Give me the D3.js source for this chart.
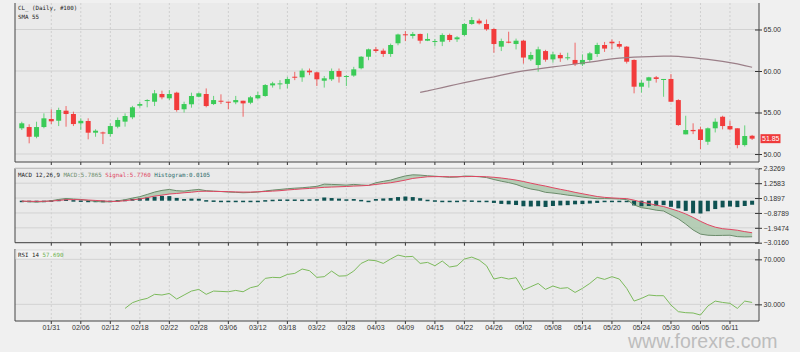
<!DOCTYPE html>
<html>
<head>
<meta charset="utf-8">
<script src="https://cdn.jsdelivr.net/npm/d3@7"></script>
<style>
  body { margin: 0; background: #f0f0f0; }
  svg { display: block; }
  .tick text { font-family: "Liberation Sans", Arial, sans-serif; font-size: 7px; fill: #333; }
  .mono { font-family: "DejaVu Sans Mono", monospace; font-size: 5.8px; }
</style>
</head>
<body>
<div id="chart"></div>
<script>
// CL_ daily, 100 bars
const dates = ["01/25","01/28","01/29","01/30","01/31","02/01","02/04","02/05","02/06","02/07",
  "02/08","02/11","02/12","02/13","02/14","02/15","02/18","02/19","02/20","02/21",
  "02/22","02/25","02/26","02/27","02/28","03/01","03/04","03/05","03/06","03/07",
  "03/08","03/11","03/12","03/13","03/14","03/15","03/18","03/19","03/20","03/21",
  "03/22","03/25","03/26","03/27","03/28","03/29","04/01","04/02","04/03","04/04",
  "04/05","04/08","04/09","04/10","04/11","04/12","04/15","04/16","04/17","04/18",
  "04/22","04/23","04/24","04/25","04/26","04/29","04/30","05/01","05/02","05/03",
  "05/06","05/07","05/08","05/09","05/10","05/13","05/14","05/15","05/16","05/17",
  "05/20","05/21","05/22","05/23","05/24","05/27","05/28","05/29","05/30","05/31",
  "06/03","06/04","06/05","06/06","06/07","06/10","06/11","06/12","06/13","06/14"];

const tickDates = ["01/31","02/06","02/12","02/18","02/22","02/28","03/06","03/12","03/18","03/22",
  "03/28","04/03","04/09","04/15","04/22","04/26","05/02","05/08","05/14","05/20",
  "05/24","05/30","06/05","06/11"];

const open = [53.10,53.25,52.08,53.25,54.22,54.01,55.22,54.82,53.70,53.98,
  52.57,52.60,52.41,53.29,53.90,54.42,55.82,56.42,56.30,57.23,
  56.71,57.39,55.39,55.99,56.90,57.23,56.02,56.42,56.30,56.23,
  56.42,56.18,56.71,56.99,58.27,58.47,58.45,59.31,59.24,60.04,
  59.84,58.83,59.00,60.00,59.31,59.45,60.33,61.72,62.61,62.45,
  62.05,63.34,64.42,64.22,64.46,63.65,63.55,63.53,64.34,63.82,
  64.34,65.66,66.06,65.66,65.06,62.93,63.53,63.25,63.65,61.40,
  60.72,62.40,61.40,61.93,61.53,61.33,60.81,61.33,62.05,63.13,
  63.53,63.25,62.93,61.33,58.11,58.83,59.24,58.95,59.04,56.50,
  52.37,52.90,52.97,51.48,53.10,54.49,53.37,53.10,51.08,52.20];
const high = [53.89,53.58,53.89,54.90,55.39,55.58,55.78,55.10,54.30,54.30,
  52.98,52.70,53.70,54.40,54.90,55.80,56.30,56.60,57.71,57.63,
  57.71,57.50,56.30,57.39,57.39,57.90,57.00,57.19,56.30,57.00,
  56.42,57.00,57.50,58.43,58.70,58.90,59.30,59.90,60.30,60.30,
  59.92,59.40,60.30,60.30,59.50,60.50,61.80,62.70,62.90,62.70,
  63.30,64.50,64.80,64.70,64.50,64.54,63.86,64.54,64.50,64.20,
  65.76,66.50,66.30,66.20,65.14,63.90,64.73,63.90,63.73,62.30,
  62.93,62.55,62.30,62.20,62.20,63.41,62.00,62.30,63.40,63.50,
  63.80,63.60,63.00,61.40,58.90,59.30,59.40,59.04,59.64,56.60,
  54.61,53.70,53.30,53.20,54.30,54.61,54.00,53.10,53.45,52.30];
const low = [52.89,51.29,51.90,53.10,53.61,53.37,53.29,53.37,52.90,51.77,
  52.08,51.20,52.10,53.10,53.30,54.20,55.60,55.63,55.78,56.59,
  56.50,55.10,55.00,55.58,56.83,55.63,55.90,56.02,55.39,56.00,
  54.49,56.00,56.60,56.90,58.00,57.80,57.90,58.90,58.70,59.50,
  58.19,58.00,58.80,58.60,58.19,59.30,60.20,61.30,62.20,61.70,
  61.70,63.10,63.60,63.90,63.30,63.60,62.97,63.00,63.50,63.50,
  64.20,65.56,65.60,64.85,62.20,62.40,63.34,62.60,60.90,61.20,
  59.92,61.12,61.00,61.10,61.30,60.60,60.60,61.10,61.70,62.30,
  62.60,62.70,60.90,57.31,57.40,58.00,58.60,56.90,56.25,53.40,
  52.37,52.40,50.57,51.10,52.60,52.97,52.85,50.69,50.90,51.69];
const close = [53.70,52.08,53.25,54.30,53.94,55.30,54.82,53.61,54.00,52.57,
  52.81,52.50,53.37,54.10,54.58,55.63,56.02,56.50,57.31,56.83,
  57.23,55.30,56.02,56.99,57.31,55.78,56.50,56.30,56.23,56.50,
  56.10,56.83,57.10,58.31,58.51,58.51,59.04,59.19,60.04,59.84,
  59.00,59.12,60.00,59.31,59.40,60.20,61.72,62.61,62.41,62.05,
  63.13,64.40,64.30,64.46,63.65,63.86,63.61,64.34,63.73,64.05,
  65.66,66.14,65.74,65.02,63.25,63.61,63.41,63.65,61.62,61.93,
  62.61,61.36,62.00,61.53,61.65,60.81,61.33,62.13,63.13,62.70,
  63.34,62.93,61.12,58.11,58.59,59.24,59.04,59.04,56.30,53.49,
  52.89,52.75,51.69,53.10,53.89,53.37,52.97,51.08,52.17,51.85];

// SMA 55, first value on 04/11
const smaFrom = "04/11";
const sma55 = [57.43,57.60,57.80,58.00,58.20,58.40,58.60,58.78,58.96,59.14,
  59.30,59.50,59.68,59.86,60.02,60.14,60.26,60.37,60.49,60.60,
  60.72,60.84,60.96,61.08,61.20,61.33,61.45,61.55,61.62,61.67,
  61.70,61.73,61.76,61.78,61.79,61.75,61.68,61.60,61.50,61.40,
  61.28,61.15,61.00,60.85,60.65,60.45];

const priceTicks = [50, 55, 60, 65];
const lastPrice = "51.85";

// MACD 12,26,9
const macd = [-0.03,-0.07,-0.10,-0.06,0.00,0.09,0.16,0.12,0.09,0.01,
  -0.05,-0.09,-0.07,-0.01,0.07,0.19,0.29,0.45,0.62,0.74,
  0.81,0.72,0.69,0.76,0.81,0.72,0.69,0.66,0.62,0.60,
  0.57,0.59,0.62,0.70,0.76,0.81,0.86,0.90,0.93,0.98,
  1.03,1.19,1.17,1.15,1.12,1.17,1.13,1.10,1.29,1.39,
  1.48,1.64,1.78,1.86,1.84,1.79,1.76,1.72,1.68,1.70,
  1.77,1.76,1.72,1.66,1.52,1.40,1.30,1.17,0.98,0.84,
  0.75,0.60,0.55,0.48,0.40,0.34,0.26,0.20,0.14,0.15,
  0.14,0.12,0.08,-0.30,-0.50,-0.58,-0.68,-0.74,-1.02,-1.30,
  -1.68,-2.10,-2.40,-2.48,-2.50,-2.49,-2.48,-2.58,-2.60,-2.59];
const signal = [-0.03,-0.04,-0.05,-0.04,-0.03,0.02,0.07,0.08,0.07,0.05,
  0.02,-0.01,-0.05,-0.05,0.00,0.06,0.12,0.22,0.33,0.40,
  0.48,0.52,0.57,0.61,0.67,0.68,0.67,0.66,0.65,0.63,
  0.62,0.62,0.64,0.66,0.69,0.72,0.77,0.81,0.85,0.88,
  0.92,0.96,0.98,1.00,1.02,1.05,1.07,1.10,1.17,1.23,
  1.29,1.38,1.48,1.60,1.66,1.72,1.73,1.73,1.72,1.72,
  1.73,1.74,1.74,1.72,1.68,1.63,1.56,1.48,1.38,1.26,
  1.15,1.05,0.93,0.82,0.72,0.60,0.50,0.40,0.30,0.24,
  0.20,0.17,0.15,0.04,-0.10,-0.20,-0.32,-0.42,-0.58,-0.75,
  -0.95,-1.20,-1.48,-1.72,-1.90,-2.01,-2.06,-2.12,-2.22,-2.30];
const histogram = [0.00,-0.03,-0.05,-0.02,0.03,0.07,0.09,0.04,0.02,-0.04,
  -0.07,-0.08,-0.02,0.04,0.07,0.13,0.17,0.23,0.29,0.34,
  0.33,0.20,0.12,0.15,0.14,0.04,0.02,0.00,-0.03,-0.03,
  -0.05,-0.03,-0.02,0.04,0.07,0.09,0.09,0.09,0.08,0.10,
  0.11,0.23,0.19,0.15,0.10,0.12,0.06,0.00,0.12,0.16,
  0.19,0.26,0.30,0.26,0.18,0.07,0.03,-0.01,-0.04,-0.02,
  0.04,0.02,-0.02,-0.06,-0.16,-0.23,-0.26,-0.31,-0.40,-0.42,
  -0.40,-0.45,-0.38,-0.34,-0.32,-0.26,-0.24,-0.20,-0.16,-0.09,
  -0.06,-0.05,-0.07,-0.34,-0.40,-0.38,-0.36,-0.32,-0.44,-0.55,
  -0.73,-0.90,-0.92,-0.76,-0.60,-0.48,-0.42,-0.46,-0.38,-0.29];
const macdTicks = [2.3269, 1.2583, 0.1897, -0.8789, -1.9474, -3.0160];

// RSI 14, first value on 02/14
const rsiFrom = "02/14";
const rsi = [26.4,31.5,33.8,35.3,38.9,38.3,39.7,34.7,38.3,41.8,
  43.3,38.9,41.8,41.5,41.2,42.4,41.2,44.8,46.3,53.1,
  54.0,53.7,56.6,57.5,61.4,59.9,54.0,54.6,59.6,55.1,
  55.4,59.6,66.4,69.4,68.8,66.4,70.3,73.8,72.3,72.6,
  66.4,67.3,64.3,68.5,63.2,64.3,70.3,72.0,69.4,64.3,
  52.5,54.0,52.5,53.7,42.7,45.7,48.6,43.3,46.3,44.2,
  44.8,40.6,44.2,48.6,54.0,52.2,54.6,52.5,44.2,32.9,
  35.3,38.3,37.7,37.7,29.4,23.5,22.6,22.3,20.5,28.5,
  32.9,31.7,30.9,26.4,32.9,31.7];
const rsiTicks = [70, 30];

const W = 800, H = 352;
const left = 15, right = 759;
const upColor = "#3acb57", downColor = "#f23c3c";

const svg = d3.select("#chart").append("svg")
    .attr("width", W)
    .attr("height", H);

svg.append("rect").attr("width", W).attr("height", H).attr("fill", "#f0f0f0");

const x = d3.scaleBand().domain(dates).range([18.1, 755.8]);
const cx = d => x(d) + x.bandwidth() / 2;

const yPrice = d3.scaleLinear().domain([49.04, 68.19]).range([162, 3]);
const yMacd = d3.scaleLinear().domain([-3.0160, 2.3269]).range([242.7, 168.3]);
const yRsi = d3.scaleLinear().domain([15.2, 79.2]).range([321, 249]);

// panel frame, grid and axes
function panel(y, ticks, fmt, withDates) {
    const [bottom, top] = y.range();
    svg.append("rect")
        .attr("x", left).attr("y", top)
        .attr("width", right - left).attr("height", bottom - top)
        .attr("fill", "#eaeaea");

    svg.append("g")
        .selectAll("line")
        .data(ticks)
        .join("line")
        .attr("x1", left).attr("x2", right)
        .attr("y1", d => y(d)).attr("y2", d => y(d))
        .attr("stroke", "#d2d2d2");

    svg.append("g")
        .selectAll("line")
        .data(tickDates)
        .join("line")
        .attr("x1", d => cx(d)).attr("x2", d => cx(d))
        .attr("y1", top).attr("y2", bottom)
        .attr("stroke", "#cfcfcf")
        .attr("stroke-dasharray", "2,2");

    let ax = svg.append("g")
        .attr("transform", `translate(${right},0)`)
        .call(d3.axisRight(y).tickValues(ticks).tickFormat(fmt).tickSize(3).tickPadding(1.5));
    ax.select(".domain").remove();
    ax.selectAll(".tick line").attr("x1", -4).attr("stroke", "#333");

    let bx = svg.append("g")
        .attr("transform", `translate(0,${bottom})`)
        .call(d3.axisBottom(x).tickValues(tickDates).tickSize(3).tickPadding(1));
    bx.select(".domain").remove();
    bx.selectAll(".tick line").attr("stroke", "#333");
    if (!withDates) bx.selectAll(".tick text").remove();

    svg.append("path")
        .attr("d", `M${left},${top}V${bottom}H${right}V${top}`)
        .attr("fill", "none")
        .attr("stroke", "#444");
}

panel(yPrice, priceTicks, d3.format(".2f"), false);
panel(yMacd, macdTicks, d3.format(".4f"), false);
panel(yRsi, rsiTicks, d3.format(".3f"), true);

// MACD top border
svg.append("line")
    .attr("x1", left).attr("x2", right)
    .attr("y1", yMacd.range()[1]).attr("y2", yMacd.range()[1])
    .attr("stroke", "#bbb");

// candles
const bars = dates.map((d, i) => ({ date: d, o: open[i], h: high[i], l: low[i], c: close[i] }));

svg.append("g")
    .selectAll("line")
    .data(bars)
    .join("line")
    .attr("x1", d => cx(d.date)).attr("x2", d => cx(d.date))
    .attr("y1", d => yPrice(d.h)).attr("y2", d => yPrice(d.l))
    .attr("stroke", d => d.c >= d.o ? upColor : downColor)
    .attr("stroke-opacity", 0.75);

svg.append("g")
    .selectAll("rect")
    .data(bars)
    .join("rect")
    .attr("x", d => cx(d.date) - 2.5)
    .attr("width", 5)
    .attr("y", d => yPrice(Math.max(d.o, d.c)))
    .attr("height", d => Math.max(1, Math.abs(yPrice(d.o) - yPrice(d.c))))
    .attr("fill", d => d.c >= d.o ? upColor : downColor);

// SMA 55
const smaStart = dates.indexOf(smaFrom);
svg.append("path")
    .datum(sma55)
    .attr("fill", "none")
    .attr("stroke", "#9b7f88")
    .attr("stroke-width", 1.2)
    .attr("d", d3.line().x((d, i) => cx(dates[smaStart + i])).y(d => yPrice(d)));

// last price tag
svg.append("rect")
    .attr("x", right + 1.5).attr("y", yPrice(+lastPrice) - 4.5)
    .attr("width", 20).attr("height", 9)
    .attr("fill", "#ef3b3b");
svg.append("text")
    .attr("x", right + 3).attr("y", yPrice(+lastPrice) + 2.5)
    .attr("font-family", "Liberation Sans, Arial, sans-serif")
    .attr("font-size", 7)
    .attr("fill", "#fff")
    .text(lastPrice);

// MACD
const md = dates.map((d, i) => ({ date: d, m: macd[i], s: signal[i], h: histogram[i] }));

svg.append("path")
    .datum(md)
    .attr("fill", "#a9c5a9")
    .attr("fill-opacity", 0.8)
    .attr("d", d3.area().x(d => cx(d.date)).y0(d => yMacd(d.s)).y1(d => yMacd(d.m)));

svg.append("g")
    .selectAll("rect")
    .data(md)
    .join("rect")
    .attr("x", d => cx(d.date) - 2)
    .attr("width", 4)
    .attr("y", d => Math.min(yMacd(0), yMacd(d.h)))
    .attr("height", d => Math.max(1.5, Math.abs(yMacd(d.h) - yMacd(0))))
    .attr("fill", "#0f5252");

svg.append("path")
    .datum(md)
    .attr("fill", "none")
    .attr("stroke", "#6b8c6b")
    .attr("d", d3.line().x(d => cx(d.date)).y(d => yMacd(d.m)));

svg.append("path")
    .datum(md)
    .attr("fill", "none")
    .attr("stroke", "#df4662")
    .attr("d", d3.line().x(d => cx(d.date)).y(d => yMacd(d.s)));

// RSI
const rsiStart = dates.indexOf(rsiFrom);
svg.append("path")
    .datum(rsi)
    .attr("fill", "none")
    .attr("stroke", "#7cba5c")
    .attr("d", d3.line().x((d, i) => cx(dates[rsiStart + i])).y(d => yRsi(d)));

// titles
svg.append("text").attr("class", "mono").attr("x", 18).attr("y", 10).attr("fill", "#222")
    .text("CL_ (Daily, #100)");
svg.append("text").attr("class", "mono").attr("x", 18).attr("y", 19).attr("fill", "#222").text("SMA 55");

const t2 = svg.append("text").attr("class", "mono").attr("x", 18).attr("y", 177);
t2.append("tspan").attr("fill", "#222").text("MACD 12,26,9 ");
t2.append("tspan").attr("fill", "#6b8c6b").text("MACD:5.7865 ");
t2.append("tspan").attr("fill", "#df4662").text("Signal:5.7760 ");
t2.append("tspan").attr("fill", "#2b6b6b").text("Histogram:0.0105");

svg.append("rect")
    .attr("x", 16).attr("y", 250).attr("width", 47).attr("height", 9)
    .attr("fill", "#f3f3f3").attr("stroke", "#dedede");
const t3 = svg.append("text").attr("class", "mono").attr("x", 18).attr("y", 257);
t3.append("tspan").attr("fill", "#222").text("RSI 14 ");
t3.append("tspan").attr("fill", "#6cb04c").text("57.690");

// watermark
svg.append("text")
    .attr("x", 628).attr("y", 348)
    .attr("font-family", "Liberation Sans, Arial, sans-serif")
    .attr("font-size", 19.5)
    .attr("fill", "#bdbdbd")
    .text("www.forexre.com");
</script>
</body>
</html>
